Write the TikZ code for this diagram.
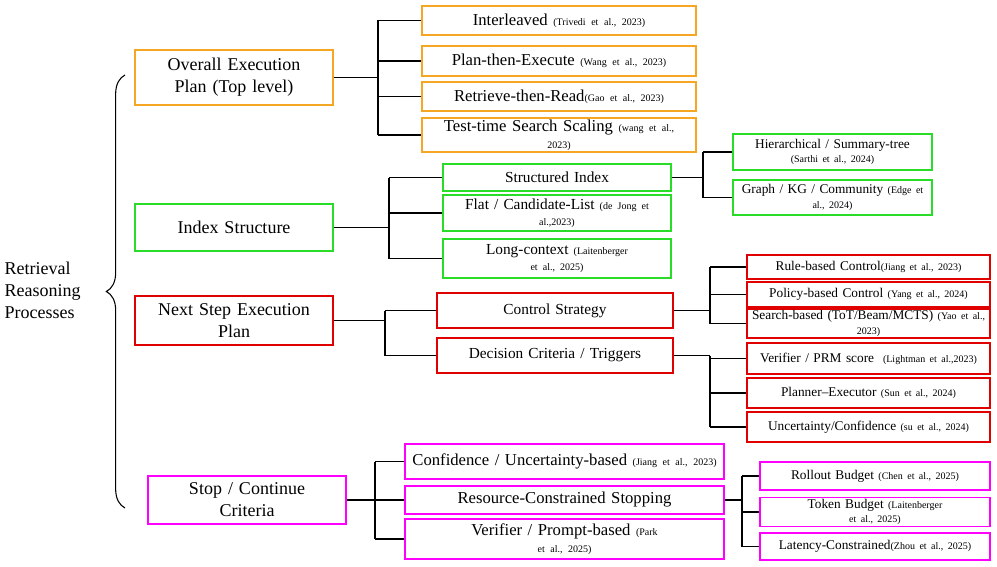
\documentclass[tikz,border=0pt]{standalone}
\usepackage{fontspec}
\setmainfont{Liberation Serif}
\usetikzlibrary{decorations.pathreplacing}
\definecolor{ocol}{RGB}{245,166,35}
\definecolor{gcol}{RGB}{40,220,40}
\definecolor{rcol}{RGB}{225,0,0}
\definecolor{mcol}{RGB}{255,0,255}
\newcommand{\cit}[1]{{\fontsize{7.5}{8.5}\selectfont #1}}
% box macro: name, style, x1, y1, x2, y2, text
\newcommand{\bx}[7]{\node[#2, minimum width={(#5-#3)*0.75pt}, minimum height={(#6-#4)*0.75pt}, text width={(#5-#3-6)*0.75pt}] (#1) at ({(#3+#5)/2},{(#4+#6)/2}) {#7};}
\begin{document}
\begin{tikzpicture}[
  x=0.75pt, y=-0.75pt,
  box/.style={draw, thick, inner sep=1pt, align=center},
  lone/.style={box, font=\fontsize{13.5}{16.5}\selectfont},
  ltwo/.style={box, font=\fontsize{12.5}{13}\selectfont},
  lthree/.style={box, font=\fontsize{10}{11}\selectfont},
  ln/.style={draw, line width=0.8pt},
]
\useasboundingbox (0,0) rectangle (997,567);

\node[font=\fontsize{13.5}{16.5}\selectfont, align=left, anchor=west] (root) at (0,290) {Retrieval\\Reasoning\\Processes};
\draw[ln, decorate, decoration={brace, amplitude=14pt}] (125,508) -- (125,75);

% level one
\bx{ov}{lone, draw=ocol}{135}{50}{333}{105}{Overall Execution\\Plan (Top level)}
\bx{ix}{lone, draw=gcol}{135}{204}{333}{251}{Index Structure}
\bx{nx}{lone, draw=rcol}{135}{296}{333}{345}{Next Step Execution\\Plan}
\bx{st}{lone, draw=mcol}{148}{476}{346}{524}{Stop / Continue\\Criteria}

% execution plan
\bx{il}{ltwo, draw=ocol}{422}{6}{696}{35}{Interleaved \cit{(Trivedi et al., 2023)}}
\bx{pe}{ltwo, draw=ocol}{422}{46}{696}{76}{Plan-then-Execute \cit{(Wang et al., 2023)}}
\bx{rr}{ltwo, draw=ocol}{422}{82}{696}{111}{Retrieve-then-Read\cit{(Gao et al., 2023)}}
\bx{tt}{ltwo, draw=ocol}{422}{118}{696}{152}{Test-time Search Scaling \cit{(wang et al.,\\2023)}}

% index structure
\bx{si}{lthree, font=\fontsize{11.5}{12}\selectfont, draw=gcol}{443}{164}{671}{191}{Structured Index}
\bx{fl}{lthree, font=\fontsize{11.5}{12}\selectfont, draw=gcol}{443}{195}{671}{231}{Flat / Candidate-List \cit{(de Jong et\\al.,2023)}}
\bx{lc}{lthree, font=\fontsize{11.5}{12}\selectfont, draw=gcol}{443}{239}{671}{278}{Long-context \cit{(Laitenberger\\et al., 2025)}}
\bx{hs}{lthree, draw=gcol}{733}{134}{932}{170}{Hierarchical / Summary-tree\\\cit{(Sarthi et al., 2024)}}
\bx{gk}{lthree, draw=gcol}{733}{180}{932}{215}{Graph / KG / Community \cit{(Edge et\\al., 2024)}}

% next step
\bx{cs}{lthree, font=\fontsize{11.5}{12}\selectfont, draw=rcol}{437}{293}{673}{328}{Control Strategy}
\bx{dc}{lthree, font=\fontsize{11.5}{12}\selectfont, draw=rcol}{437}{338}{673}{373}{Decision Criteria / Triggers}
\bx{rb}{lthree, draw=rcol}{747}{255}{990}{279}{Rule-based Control\cit{(Jiang et al., 2023)}}
\bx{pb}{lthree, draw=rcol}{747}{282}{990}{307}{Policy-based Control \cit{(Yang et al., 2024)}}
\bx{sb}{lthree, draw=rcol}{747}{309}{990}{338}{Search-based (ToT/Beam/MCTS) \cit{(Yao et al.,\\2023)}}
\bx{vp}{lthree, draw=rcol}{747}{343}{990}{374}{Verifier / PRM score \ \cit{(Lightman et al.,2023)}}
\bx{pl}{lthree, draw=rcol}{747}{378}{990}{408}{Planner--Executor \cit{(Sun et al., 2024)}}
\bx{uc}{lthree, draw=rcol}{747}{412}{990}{442}{Uncertainty/Confidence \cit{(su et al., 2024)}}

% stop criteria
\bx{cu}{ltwo, draw=mcol}{405}{444}{724}{479}{Confidence / Uncertainty-based \cit{(Jiang et al., 2023)}}
\bx{rc}{ltwo, draw=mcol}{405}{486}{724}{514}{Resource-Constrained Stopping}
\bx{vf}{ltwo, draw=mcol}{405}{519}{724}{559}{Verifier / Prompt-based \cit{(Park\\et al., 2025)}}
\bx{ro}{lthree, draw=mcol}{760}{462}{990}{490}{Rollout Budget \cit{(Chen et al., 2025)}}
\bx{tb}{lthree, draw=mcol}{760}{498}{990}{526}{Token Budget \cit{(Laitenberger\\et al., 2025)}}
\bx{lt}{lthree, draw=mcol}{760}{533}{990}{560}{Latency-Constrained\cit{(Zhou et al., 2025)}}

% connectors
\coordinate (j1) at (378,77.5);
\draw[ln] (ov.east) -- (j1);
\draw[ln] (j1|-il.west) -- (j1|-tt.west);
\foreach \c in {il,pe,rr,tt} \draw[ln] (j1|-\c.west) -- (\c.west);

\coordinate (j2) at (389,227.5);
\draw[ln] (ix.east) -- (j2);
\draw[ln] (j2|-si.west) -- (j2|-lc.west);
\foreach \c in {si,fl,lc} \draw[ln] (j2|-\c.west) -- (\c.west);

\coordinate (j3) at (703,177.5);
\draw[ln] (si.east) -- (j3);
\draw[ln] (j3|-hs.west) -- (j3|-gk.west);
\foreach \c in {hs,gk} \draw[ln] (j3|-\c.west) -- (\c.west);

\coordinate (j4) at (385,320.5);
\draw[ln] (nx.east) -- (j4);
\draw[ln] (j4|-cs.west) -- (j4|-dc.west);
\foreach \c in {cs,dc} \draw[ln] (j4|-\c.west) -- (\c.west);

\coordinate (j5) at (710,310.5);
\draw[ln] (cs.east) -- (j5);
\draw[ln] (j5|-rb.west) -- (j5|-sb.west);
\foreach \c in {rb,pb,sb} \draw[ln] (j5|-\c.west) -- (\c.west);

\coordinate (j6) at (710,355.5);
\draw[ln] (dc.east) -- (j6);
\draw[ln] (j6|-dc.east) -- (j6|-uc.west);
\foreach \c in {vp,pl,uc} \draw[ln] (j6|-\c.west) -- (\c.west);

\coordinate (j7) at (375,500);
\draw[ln] (st.east) -- (j7);
\draw[ln] (j7|-cu.west) -- (j7|-vf.west);
\foreach \c in {cu,rc,vf} \draw[ln] (j7|-\c.west) -- (\c.west);

\coordinate (j8) at (742,500);
\draw[ln] (rc.east) -- (j8);
\draw[ln] (j8|-ro.west) -- (j8|-lt.west);
\foreach \c in {ro,tb,lt} \draw[ln] (j8|-\c.west) -- (\c.west);
\end{tikzpicture}
\end{document}
